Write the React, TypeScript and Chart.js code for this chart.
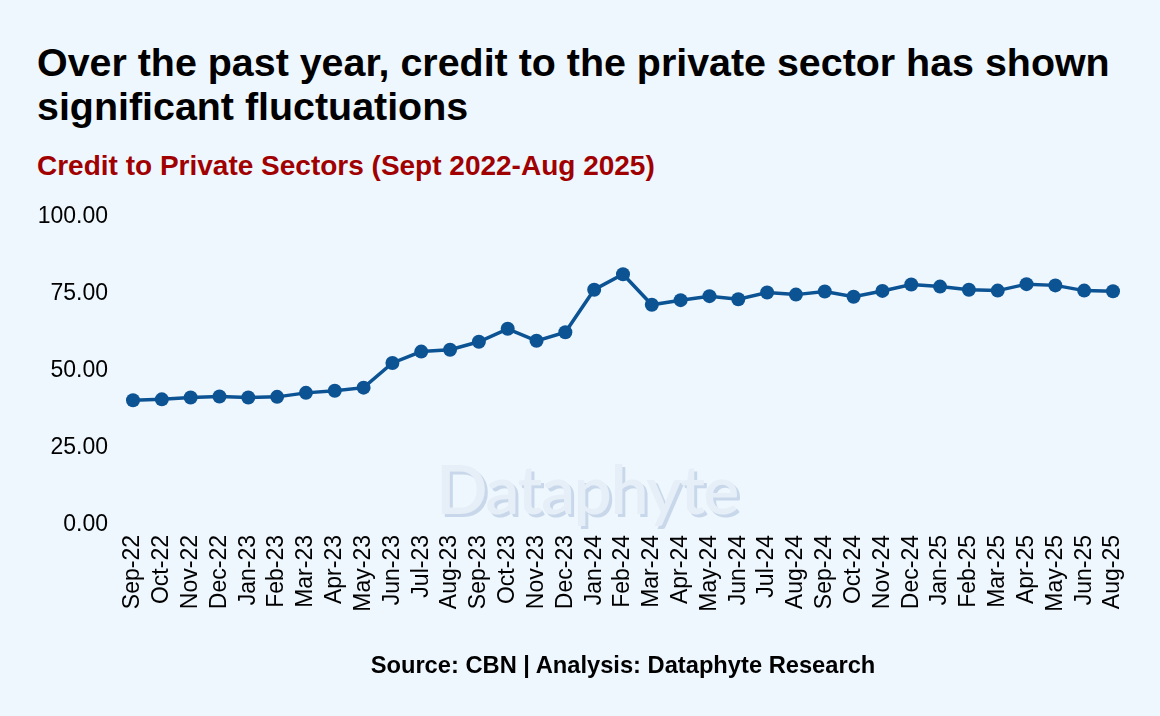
import React, { useEffect, useRef } from "react";
import { Chart, registerables } from "chart.js";

Chart.register(...registerables);

const categories = [
  "Sep-22", "Oct-22", "Nov-22", "Dec-22",
  "Jan-23", "Feb-23", "Mar-23", "Apr-23", "May-23", "Jun-23",
  "Jul-23", "Aug-23", "Sep-23", "Oct-23", "Nov-23", "Dec-23",
  "Jan-24", "Feb-24", "Mar-24", "Apr-24", "May-24", "Jun-24",
  "Jul-24", "Aug-24", "Sep-24", "Oct-24", "Nov-24", "Dec-24",
  "Jan-25", "Feb-25", "Mar-25", "Apr-25", "May-25", "Jun-25", "Aug-25",
];

const creditValues = [
  40.5, 40.8, 41.4, 41.7,
  41.4, 41.6, 42.9, 43.6, 44.6, 52.6,
  56.3, 56.9, 59.5, 63.7, 59.8, 62.6,
  76.4, 81.4, 71.5, 73.0, 74.3, 73.3,
  75.5, 74.8, 75.8, 74.1, 76.0, 78.1,
  77.4, 76.4, 76.1, 78.2, 77.8, 76.1, 75.9,
];

const yTickValues = [0, 25, 50, 75, 100];

const titleLines = [
  "Over the past year, credit to the private sector has shown",
  "significant fluctuations",
];
const subtitleText = "Credit to Private Sectors (Sept 2022-Aug 2025)";
const sourceText = "Source: CBN | Analysis: Dataphyte Research";
const watermarkText = "Dataphyte";

const BG = "#EFF7FE";
const LINE = "#0C5394";
const FONT = "'Liberation Sans', Arial, sans-serif";

export default function App() {
  const canvasRef = useRef<HTMLCanvasElement | null>(null);

  useEffect(() => {
    document.body.style.margin = "0";
    document.body.style.background = BG;
    const canvas = canvasRef.current;
    if (!canvas) return;
    const chart = new Chart(canvas, {
      type: "line",
      data: {
        labels: categories,
        datasets: [
          {
            data: creditValues,
            borderColor: LINE,
            backgroundColor: LINE,
            pointBackgroundColor: LINE,
            pointBorderColor: LINE,
            borderWidth: 3.5,
            pointRadius: 7,
            pointBorderWidth: 0,
            tension: 0,
            fill: false,
          },
        ],
      },
      options: {
        animation: false,
        responsive: false,
        maintainAspectRatio: false,
        layout: { padding: { left: 37, right: 47, top: 217, bottom: 0 } },
        plugins: {
          legend: { display: false },
          tooltip: { enabled: false },
          title: { display: false },
        },
        scales: {
          x: {
            offset: false,
            grid: { display: false, drawTicks: false },
            border: { display: false },
            ticks: {
              autoSkip: false,
              minRotation: 90,
              maxRotation: 90,
              padding: 10,
              color: "#000000",
              font: { family: FONT, size: 23 },
            },
            afterFit: (s: any) => {
              s.height = 191;
            },
          },
          y: {
            min: 0,
            max: 100,
            afterBuildTicks: (s: any) => {
              s.ticks = yTickValues.map((v) => ({ value: v }));
            },
            grid: { display: false, drawTicks: false },
            border: { display: false },
            ticks: {
              padding: 25,
              color: "#000000",
              font: { family: FONT, size: 23 },
              callback: (v: any) => Number(v).toFixed(2),
            },
            afterFit: (s: any) => {
              s.width = 96;
            },
          },
        },
      },
    });
    return () => chart.destroy();
  }, []);

  return (
    <div
      style={{
        position: "absolute",
        left: 0,
        top: 0,
        width: 1160,
        height: 716,
        background: BG,
        overflow: "hidden",
        fontFamily: FONT,
      }}
    >
      <div
        style={{
          position: "absolute",
          left: 37,
          top: 40,
          fontSize: 39.4,
          lineHeight: "44px",
          fontWeight: 700,
          color: "#000",
          whiteSpace: "nowrap",
        }}
      >
        {titleLines.map((t) => (
          <div key={t}>{t}</div>
        ))}
      </div>
      <div
        style={{
          position: "absolute",
          left: 37,
          top: 150,
          fontSize: 28,
          lineHeight: "32px",
          fontWeight: 700,
          color: "#A00000",
          whiteSpace: "nowrap",
        }}
      >
        {subtitleText}
      </div>
      <div
        style={{
          position: "absolute",
          left: 436,
          top: 454,
          fontFamily: "Lato, 'DejaVu Sans', sans-serif",
          fontSize: 68,
          fontWeight: 600,
          lineHeight: "67px",
          letterSpacing: "-1.5px",
          color: "#E6EEF7",
          textShadow: "3px 3px 0 #C8D8EA",
          whiteSpace: "nowrap",
        }}
      >
        {watermarkText}
      </div>
      <canvas
        ref={canvasRef}
        width={1160}
        height={716}
        style={{ position: "absolute", left: 0, top: 0, width: 1160, height: 716 }}
      />
      <div
        style={{
          position: "absolute",
          left: 133,
          width: 980,
          top: 652,
          textAlign: "center",
          fontSize: 23.7,
          lineHeight: "27px",
          fontWeight: 700,
          color: "#000",
          whiteSpace: "nowrap",
        }}
      >
        {sourceText}
      </div>
    </div>
  );
}
